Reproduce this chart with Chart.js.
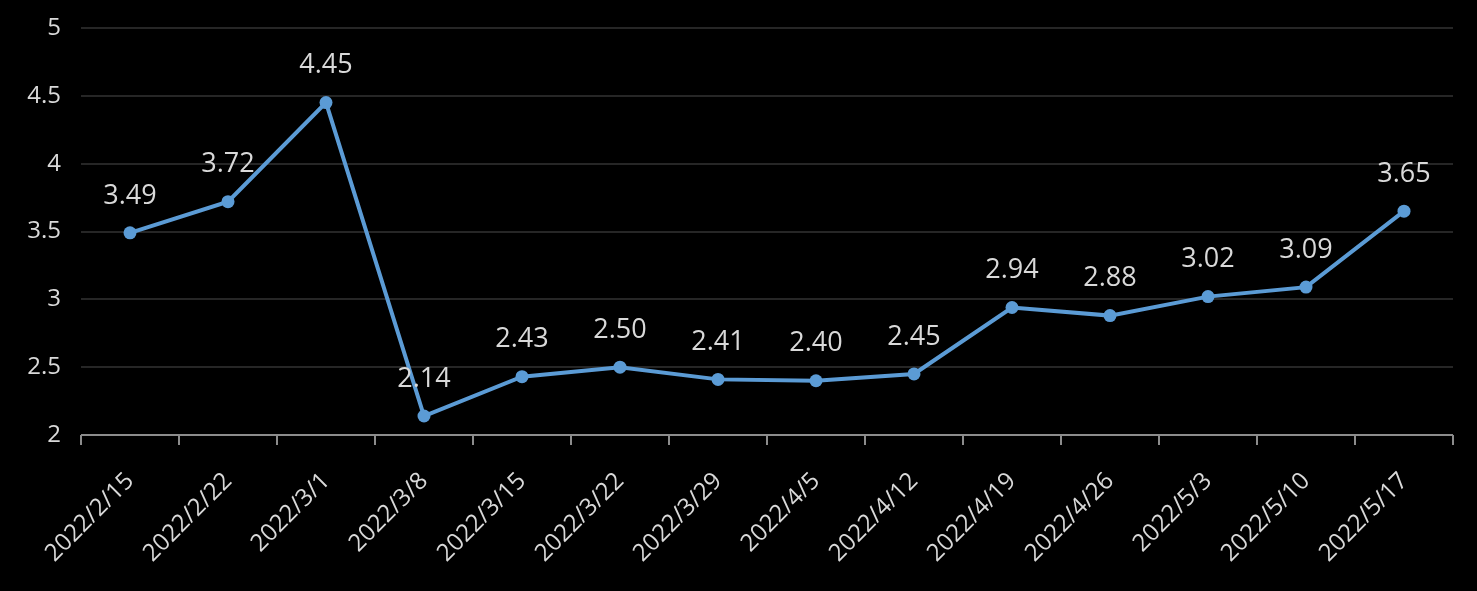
<!DOCTYPE html>
<html>
<head>
<meta charset="utf-8">
<script src="https://cdn.jsdelivr.net/npm/chart.js@4"></script>
<style>
html,body{margin:0;padding:0;background:#000;}
#wrap{width:1477px;height:591px;position:relative;}
</style>
</head>
<body>
<div id="wrap"><canvas id="c" width="1477" height="591"></canvas></div>
<script>
const categories = ["2022/2/15","2022/2/22","2022/3/1","2022/3/8","2022/3/15","2022/3/22","2022/3/29","2022/4/5","2022/4/12","2022/4/19","2022/4/26","2022/5/3","2022/5/10","2022/5/17"];
const values = [3.49,3.72,4.45,2.14,2.43,2.50,2.41,2.40,2.45,2.94,2.88,3.02,3.09,3.65];
const yTicks = [2,2.5,3,3.5,4,4.5,5];

const FONT = "'Open Sans', 'Noto Sans', sans-serif";
const TEXT = "#d9d9d9";
const AXIS = "#8c8c8c";

const labelPlugin = {
  id: 'valueLabels',
  beforeDatasetsDraw(chart) {
    const ctx = chart.ctx;
    const a = chart.chartArea;
    ctx.save();
    ctx.strokeStyle = AXIS;
    ctx.lineWidth = 2;
    ctx.beginPath();
    ctx.moveTo(a.left, Math.round(a.bottom));
    ctx.lineTo(a.right, Math.round(a.bottom));
    ctx.stroke();
    ctx.restore();
  },
  afterDatasetsDraw(chart) {
    const ctx = chart.ctx;
    const meta = chart.getDatasetMeta(0);
    ctx.save();
    ctx.font = "27px " + FONT;
    ctx.fillStyle = TEXT;
    ctx.textAlign = 'center';
    ctx.textBaseline = 'middle';
    meta.data.forEach((pt, i) => {
      ctx.fillText(values[i].toFixed(2), pt.x, pt.y - 37);
    });
    ctx.restore();
  }
};

new Chart(document.getElementById('c'), {
  type: 'line',
  data: {
    labels: categories,
    datasets: [{
      data: values,
      borderColor: '#5b9bd5',
      backgroundColor: '#5b9bd5',
      borderWidth: 4,
      pointRadius: 6.5,
      pointHoverRadius: 6.5,
      pointBackgroundColor: '#5b9bd5',
      pointBorderWidth: 0,
      tension: 0
    }]
  },
  options: {
    responsive: false,
    animation: false,
    events: [],
    layout: { padding: { top: 28, right: 24, left: 0, bottom: 0 } },
    plugins: { legend: { display: false }, tooltip: { enabled: false } },
    scales: {
      x: {
        offset: true,
        grid: {
          offset: true,
          drawOnChartArea: false,
          color: AXIS,
          lineWidth: 2,
          tickLength: 10
        },
        border: { display: false },
        ticks: {
          color: TEXT,
          font: { size: 24, family: FONT },
          maxRotation: 45,
          minRotation: 45,
          autoSkip: false,
          padding: 22
        },
        afterFit(s) { s.height = 156; }
      },
      y: {
        min: 2,
        max: 5,
        afterBuildTicks(s) { s.ticks = yTicks.map(v => ({ value: v })); },
        grid: {
          color: '#262626',
          lineWidth: 2,
          drawTicks: false
        },
        border: { display: false },
        ticks: {
          color: TEXT,
          font: { size: 24, family: FONT },
          padding: 20,
          callback: v => String(v)
        },
        afterFit(s) { s.width = 81; s.paddingTop = 0; s.paddingBottom = 0; }
      }
    }
  },
  plugins: [labelPlugin]
});
</script>
</body>
</html>
